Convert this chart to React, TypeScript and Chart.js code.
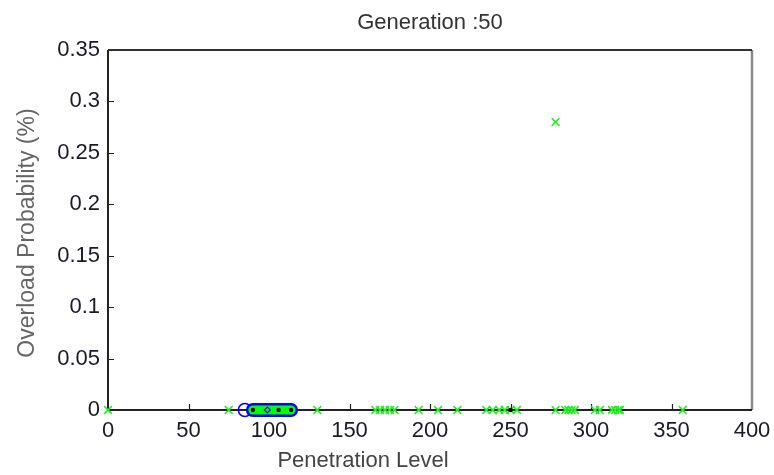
import React, { useEffect, useRef } from "react";
import { Chart, registerables } from "chart.js";

Chart.register(...registerables);

// Population (green x markers): penetration level vs overload probability
const popPenetration = [0, 75, 130, 166, 169, 172, 175, 178, 193, 205, 217, 235, 239, 243, 246.5, 250, 254, 278, 284, 286, 288, 290, 302.5, 305.5, 313, 315, 317, 318, 357, 278];
const popOverload = [0, 0, 0, 0, 0, 0, 0, 0, 0, 0, 0, 0, 0, 0, 0, 0, 0, 0, 0, 0, 0, 0, 0, 0, 0, 0, 0, 0, 0, 0.28];

// Cluster of best solutions (blue circles)
const bestPenetration = [90, 91.5, 93, 94.5, 96, 97.5, 99, 100.5, 102, 103.5, 105, 106.5, 108, 109.5, 111, 112.5, 113.7];
const bestOverload = [0, 0, 0, 0, 0, 0, 0, 0, 0, 0, 0, 0, 0, 0, 0, 0, 0];

// Open circle
const openPenetration = [85];
const openOverload = [0];

// Black dots
const dotPenetration = [90, 106, 113.7, 250];
const dotOverload = [0, 0, 0, 0];

// Blue diamond
const diamondPenetration = [99];
const diamondOverload = [0];

const xTicks = [0, 50, 100, 150, 200, 250, 300, 350, 400];
const yTicks = [0, 0.05, 0.1, 0.15, 0.2, 0.25, 0.3, 0.35];

const titleText = "Generation :50";
const xLabel = "Penetration Level";
const yLabel = "Overload Probability (%)";

const FONT = "'Liberation Sans', Arial, sans-serif";

const pts = (xs: number[], ys: number[]) => xs.map((x, i) => ({ x, y: ys[i] }));

export default function App() {
  const ref = useRef<HTMLCanvasElement | null>(null);

  useEffect(() => {
    if (!ref.current) return;

    const decor = {
      id: "decor",
      beforeDatasetsDraw(chart: any) {
        const { ctx, chartArea: a, scales } = chart;
        ctx.save();
        // ticks inward
        ctx.strokeStyle = "#222";
        ctx.lineWidth = 1.2;
        ctx.beginPath();
        xTicks.slice(1, -1).forEach((v) => {
          const px = Math.round(scales.x.getPixelForValue(v)) + 0.5;
          ctx.moveTo(px, a.bottom);
          ctx.lineTo(px, a.bottom - 6);
        });
        yTicks.slice(1, -1).forEach((v) => {
          const py = Math.round(scales.y.getPixelForValue(v)) + 0.5;
          ctx.moveTo(a.left, py);
          ctx.lineTo(a.left + 6, py);
        });
        ctx.stroke();
        // box
        ctx.strokeStyle = "#8a8a8a";
        ctx.lineWidth = 2.5;
        ctx.beginPath();
        ctx.moveTo(a.right, a.top);
        ctx.lineTo(a.right, a.bottom);
        ctx.stroke();
        ctx.strokeStyle = "#333";
        ctx.lineWidth = 2;
        ctx.beginPath();
        ctx.moveTo(a.left, a.top);
        ctx.lineTo(a.right, a.top);
        ctx.stroke();
        ctx.strokeStyle = "#222";
        ctx.lineWidth = 2;
        ctx.beginPath();
        ctx.moveTo(a.left, a.top);
        ctx.lineTo(a.left, a.bottom);
        ctx.lineTo(a.right, a.bottom);
        ctx.stroke();
        ctx.restore();
      },
      afterDraw(chart: any) {
        const { ctx, chartArea: a } = chart;
        ctx.save();
        ctx.textAlign = "center";
        ctx.textBaseline = "middle";
        ctx.fillStyle = "#333";
        ctx.font = `22px ${FONT}`;
        ctx.fillText(titleText, (a.left + a.right) / 2, 23);
        ctx.fillStyle = "#444";
        ctx.fillText(xLabel, 363, 461);
        ctx.translate(28, 233);
        ctx.rotate(-Math.PI / 2);
        ctx.fillStyle = "#666";
        ctx.font = `23px ${FONT}`;
        ctx.fillText(yLabel, 0, 0);
        ctx.restore();
      },
    };

    const chart = new Chart(ref.current, {
      type: "scatter",
      data: {
        datasets: [
          {
            label: "diamond",
            data: pts(diamondPenetration, diamondOverload),
            pointStyle: "rectRot",
            pointRadius: 3,
            borderColor: "#0000ff",
            backgroundColor: "rgba(0,0,0,0)",
            borderWidth: 1.2,
            clip: false,
            order: 0,
          },
          {
            label: "dots",
            data: pts(dotPenetration, dotOverload),
            pointStyle: "circle",
            pointRadius: 2.2,
            borderWidth: 0,
            backgroundColor: "#000",
            clip: false,
            order: 1,
          },
          {
            label: "population",
            data: pts(popPenetration, popOverload),
            pointStyle: "crossRot",
            pointRadius: 5.5,
            borderColor: "#22ee22",
            borderWidth: 1.5,
            clip: false,
            order: 2,
          },
          {
            label: "bestInner",
            data: pts(bestPenetration, bestOverload),
            pointStyle: "circle",
            pointRadius: 4.5,
            borderWidth: 0,
            backgroundColor: "#00ff00",
            clip: false,
            order: 3,
          },
          {
            label: "bestOuter",
            data: pts(bestPenetration, bestOverload),
            pointStyle: "circle",
            pointRadius: 7,
            borderWidth: 0,
            backgroundColor: "#0000ff",
            clip: false,
            order: 4,
          },
          {
            label: "open",
            data: pts(openPenetration, openOverload),
            pointStyle: "circle",
            pointRadius: 6.5,
            borderColor: "#0000ff",
            backgroundColor: "rgba(0,0,0,0)",
            borderWidth: 1.5,
            clip: false,
            order: 5,
          },
        ],
      },
      options: {
        responsive: false,
        animation: false,
        devicePixelRatio: 1,
        layout: { padding: { left: 0, right: 22, top: 50, bottom: 0 } },
        plugins: {
          legend: { display: false },
          title: { display: false },
          tooltip: { enabled: false },
        },
        elements: { point: { hoverRadius: 0 } },
        scales: {
          x: {
            type: "linear",
            min: 0,
            max: 400,
            afterBuildTicks: (s: any) => {
              s.ticks = xTicks.map((v) => ({ value: v }));
            },
            afterFit: (s: any) => {
              s.height = 65;
            },
            grid: { display: false },
            border: { display: false },
            ticks: {
              padding: 0,
              color: "#1a1a28",
              font: { family: FONT, size: 22 },
              maxRotation: 0,
              autoSkip: false,
              callback: (v: any) => String(v),
            },
          },
          y: {
            type: "linear",
            min: 0,
            max: 0.35,
            afterBuildTicks: (s: any) => {
              s.ticks = yTicks.map((v) => ({ value: v }));
            },
            afterFit: (s: any) => {
              s.width = 108;
            },
            grid: { display: false },
            border: { display: false },
            ticks: {
              padding: 0,
              color: "#1a1a28",
              font: { family: FONT, size: 22 },
              autoSkip: false,
              callback: (v: any) => String(Number(Number(v).toFixed(2))),
            },
          },
        },
      },
      plugins: [decor],
    } as any);

    return () => chart.destroy();
  }, []);

  return (
    <div style={{ position: "absolute", left: 0, top: 0, width: 774, height: 475, background: "#fff" }}>
      <canvas ref={ref} width={774} height={475} style={{ display: "block" }} />
    </div>
  );
}
